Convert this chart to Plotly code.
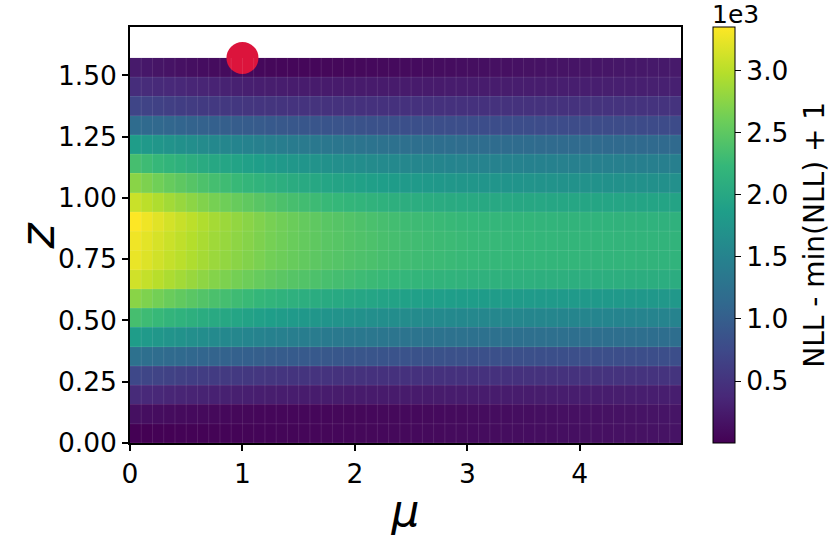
import plotly.graph_objects as go

# cell edges (mu: 49 cells, z: 20 cells)
mu_edges = [0.0, 0.1, 0.2, 0.3, 0.4, 0.5, 0.6, 0.7, 0.8, 0.9,
            1.0, 1.1, 1.2, 1.3, 1.4, 1.5, 1.6, 1.7, 1.8, 1.9,
            2.0, 2.1, 2.2, 2.3, 2.4, 2.5, 2.6, 2.7, 2.8, 2.9,
            3.0, 3.1, 3.2, 3.3, 3.4, 3.5, 3.6, 3.7, 3.8, 3.9,
            4.0, 4.1, 4.2, 4.3, 4.4, 4.5, 4.6, 4.7, 4.8, 4.9]
z_edges = [0.0, 0.0785, 0.1571, 0.2356, 0.3142, 0.3927, 0.4712, 0.5498, 0.6283, 0.7069,
           0.7854, 0.8639, 0.9425, 1.0210, 1.0996, 1.1781, 1.2566, 1.3352, 1.4137, 1.4923, 1.5708]

# NLL - min(NLL) + 1, rows from z=0 (bottom) to z=pi/2 (top)
row00 = [1, 5, 9, 13, 17, 20, 23, 26, 29, 32, 35, 38, 41, 44, 47, 50, 53, 56, 59, 62, 65, 68, 71, 74, 77, 80, 84, 88, 92, 96, 100, 104, 108, 112, 116, 120, 124, 128, 132, 136, 140, 144, 148, 152, 156, 160, 164, 168, 172]
row01 = [140, 128, 117, 107, 98, 90, 83, 77, 72, 68, 65, 63, 62, 61, 61, 61, 62, 63, 64, 66, 68, 70, 73, 76, 79, 82, 86, 90, 94, 98, 102, 106, 111, 116, 121, 126, 131, 136, 141, 146, 151, 156, 161, 166, 171, 176, 181, 186, 191]
row02 = [402, 386, 371, 357, 344, 332, 321, 311, 302, 294, 287, 280, 274, 269, 265, 261, 258, 256, 254, 253, 252, 252, 252, 252, 252, 253, 253, 254, 255, 256, 257, 258, 259, 260, 261, 262, 264, 265, 266, 268, 269, 270, 272, 273, 275, 276, 278, 279, 281]
row03 = [737, 712, 688, 665, 644, 625, 607, 591, 576, 563, 551, 540, 530, 521, 513, 506, 500, 494, 489, 485, 481, 478, 476, 474, 473, 472, 472, 472, 473, 474, 475, 476, 477, 479, 480, 482, 483, 485, 487, 488, 490, 492, 494, 495, 497, 499, 500, 502, 504]
row04 = [1240, 1214, 1188, 1162, 1140, 1118, 1096, 1074, 1057, 1039, 1022, 1005, 987, 974, 961, 948, 935, 922, 913, 904, 896, 887, 878, 869, 861, 856, 852, 848, 843, 839, 835, 832, 830, 828, 826, 824, 821, 819, 817, 816, 814, 813, 812, 811, 809, 808, 807, 805, 804]
row05 = [1843, 1805, 1767, 1728, 1696, 1665, 1633, 1601, 1575, 1550, 1525, 1499, 1474, 1454, 1435, 1416, 1397, 1378, 1365, 1353, 1340, 1327, 1314, 1302, 1289, 1282, 1276, 1270, 1263, 1257, 1251, 1247, 1244, 1241, 1238, 1235, 1231, 1228, 1225, 1223, 1221, 1219, 1217, 1216, 1214, 1212, 1210, 1208, 1206]
row06 = [2345, 2295, 2245, 2194, 2152, 2111, 2069, 2027, 1993, 1960, 1927, 1893, 1860, 1834, 1809, 1784, 1759, 1734, 1717, 1701, 1684, 1667, 1650, 1634, 1617, 1608, 1600, 1592, 1583, 1575, 1567, 1562, 1558, 1554, 1550, 1546, 1541, 1537, 1533, 1531, 1528, 1526, 1523, 1521, 1518, 1516, 1513, 1511, 1508]
row07 = [2747, 2689, 2630, 2572, 2524, 2475, 2427, 2378, 2339, 2300, 2262, 2223, 2184, 2155, 2126, 2096, 2067, 2038, 2019, 1999, 1980, 1960, 1941, 1922, 1902, 1893, 1883, 1873, 1863, 1854, 1844, 1839, 1834, 1829, 1825, 1820, 1815, 1810, 1805, 1802, 1799, 1796, 1793, 1791, 1788, 1785, 1782, 1779, 1776]
row08 = [3116, 3054, 2991, 2929, 2877, 2825, 2773, 2721, 2680, 2638, 2597, 2555, 2513, 2482, 2451, 2420, 2389, 2358, 2337, 2316, 2295, 2274, 2254, 2233, 2212, 2202, 2191, 2181, 2171, 2160, 2150, 2145, 2139, 2134, 2129, 2124, 2119, 2113, 2108, 2105, 2102, 2099, 2096, 2093, 2089, 2086, 2083, 2080, 2077]
row09 = [3250, 3185, 3120, 3056, 3002, 2948, 2894, 2840, 2796, 2753, 2710, 2667, 2624, 2591, 2559, 2526, 2494, 2462, 2440, 2418, 2397, 2375, 2354, 2332, 2310, 2300, 2289, 2278, 2267, 2256, 2246, 2240, 2235, 2229, 2224, 2219, 2213, 2208, 2202, 2199, 2196, 2193, 2189, 2186, 2183, 2180, 2176, 2173, 2170]
row10 = [3283, 3217, 3150, 3084, 3029, 2974, 2918, 2863, 2819, 2775, 2731, 2686, 2642, 2609, 2576, 2543, 2510, 2476, 2454, 2432, 2410, 2388, 2366, 2344, 2322, 2311, 2300, 2289, 2277, 2266, 2255, 2250, 2244, 2239, 2233, 2228, 2222, 2217, 2211, 2208, 2205, 2201, 2198, 2195, 2191, 2188, 2185, 2181, 2178]
row11 = [3350, 3278, 3205, 3133, 3073, 3013, 2952, 2892, 2844, 2796, 2748, 2699, 2651, 2615, 2579, 2543, 2507, 2470, 2446, 2422, 2398, 2374, 2350, 2326, 2302, 2290, 2278, 2266, 2253, 2241, 2229, 2223, 2217, 2211, 2205, 2199, 2193, 2187, 2181, 2178, 2174, 2170, 2167, 2163, 2159, 2156, 2152, 2149, 2145]
row12 = [3082, 3014, 2945, 2877, 2820, 2763, 2706, 2649, 2604, 2558, 2513, 2467, 2421, 2387, 2353, 2319, 2285, 2251, 2228, 2205, 2182, 2159, 2137, 2114, 2091, 2080, 2068, 2057, 2046, 2034, 2023, 2017, 2011, 2006, 2000, 1994, 1989, 1983, 1977, 1974, 1970, 1967, 1964, 1960, 1957, 1953, 1950, 1946, 1943]
row13 = [2747, 2683, 2618, 2554, 2500, 2447, 2393, 2340, 2297, 2254, 2211, 2168, 2125, 2093, 2061, 2029, 1997, 1964, 1943, 1922, 1900, 1879, 1857, 1836, 1814, 1804, 1793, 1782, 1771, 1761, 1750, 1745, 1739, 1734, 1729, 1723, 1718, 1713, 1707, 1704, 1701, 1698, 1694, 1691, 1688, 1685, 1681, 1678, 1675]
row14 = [2345, 2291, 2237, 2182, 2137, 2092, 2047, 2001, 1965, 1929, 1893, 1857, 1821, 1794, 1766, 1739, 1712, 1685, 1667, 1649, 1631, 1613, 1595, 1577, 1559, 1549, 1540, 1531, 1522, 1513, 1504, 1500, 1495, 1491, 1486, 1482, 1477, 1473, 1468, 1465, 1463, 1460, 1457, 1455, 1452, 1449, 1446, 1444, 1441]
row15 = [1843, 1801, 1759, 1716, 1681, 1646, 1611, 1575, 1547, 1519, 1491, 1463, 1435, 1414, 1392, 1371, 1350, 1329, 1315, 1301, 1287, 1273, 1259, 1245, 1231, 1223, 1216, 1209, 1202, 1195, 1188, 1185, 1181, 1178, 1174, 1171, 1167, 1164, 1160, 1158, 1156, 1154, 1152, 1150, 1147, 1145, 1143, 1141, 1139]
row16 = [1173, 1149, 1125, 1101, 1081, 1060, 1040, 1020, 1004, 988, 972, 956, 940, 928, 916, 904, 892, 880, 872, 863, 855, 847, 839, 831, 823, 819, 815, 811, 807, 803, 799, 797, 795, 793, 791, 789, 787, 785, 783, 782, 781, 779, 778, 777, 776, 775, 773, 772, 771]
row17 = [704, 680, 657, 635, 615, 597, 580, 566, 553, 542, 532, 523, 515, 508, 502, 497, 492, 488, 485, 482, 480, 478, 477, 476, 475, 475, 475, 476, 477, 478, 479, 480, 481, 482, 484, 485, 486, 488, 489, 490, 492, 493, 494, 496, 497, 498, 500, 501, 502]
row18 = [435, 418, 401, 385, 370, 355, 341, 328, 315, 303, 292, 282, 273, 266, 260, 256, 253, 251, 250, 249, 249, 249, 249, 250, 250, 251, 252, 253, 255, 256, 258, 260, 262, 264, 266, 268, 270, 272, 275, 277, 280, 282, 285, 287, 290, 292, 295, 297, 300]
row19 = [235, 213, 192, 172, 153, 136, 120, 106, 94, 84, 76, 70, 66, 63, 62, 62, 63, 65, 68, 71, 75, 79, 84, 89, 94, 100, 106, 112, 118, 124, 130, 136, 142, 148, 154, 160, 166, 172, 178, 184, 190, 196, 202, 208, 214, 220, 226, 232, 238]

nll = [row00, row01, row02, row03, row04, row05, row06, row07, row08, row09,
       row10, row11, row12, row13, row14, row15, row16, row17, row18, row19]
for r in nll:
    assert len(r) == len(mu_edges) - 1, len(r)
assert len(nll) == len(z_edges) - 1

# true parameter point
mu_true = [1.0]
z_true = [1.5708]

cbar_ticks = [500, 1000, 1500, 2000, 2500, 3000]
cbar_ticktext = ["0.5", "1.0", "1.5", "2.0", "2.5", "3.0"]
x_ticks = [0, 1, 2, 3, 4]
y_ticks = [0.0, 0.25, 0.5, 0.75, 1.0, 1.25, 1.5]

FONT = "DejaVu Sans"
TICK_SIZE = 26.5

fig = go.Figure()
fig.add_trace(go.Heatmap(
    x=mu_edges, y=z_edges, z=nll,
    colorscale="Viridis",
    colorbar=dict(
        x=1.058, xanchor="left", xpad=0,
        y=0, yanchor="bottom", len=1.0, lenmode="fraction", ypad=0,
        thickness=22, outlinecolor="black", outlinewidth=1,
        tickvals=cbar_ticks, ticktext=cbar_ticktext,
        ticks="outside", ticklen=6, tickwidth=1.2, tickcolor="black",
        tickfont=dict(family=FONT, size=TICK_SIZE, color="black"),
    ),
    hoverinfo="skip",
))

# faint cell edge lines (antialiasing seams)
for xe in mu_edges[1:-1]:
    fig.add_shape(type="line", x0=xe, x1=xe, y0=z_edges[0], y1=z_edges[-1],
                  line=dict(color="rgba(255,255,255,0.10)", width=1), layer="above")
for ye in z_edges[1:-1]:
    fig.add_shape(type="line", x0=mu_edges[0], x1=mu_edges[-1], y0=ye, y1=ye,
                  line=dict(color="rgba(255,255,255,0.10)", width=1), layer="above")

fig.add_trace(go.Scatter(
    x=mu_true, y=z_true, mode="markers",
    marker=dict(size=32, color="#dc143c", line=dict(width=0)),
    cliponaxis=False, showlegend=False, hoverinfo="skip",
))

# colorbar offset text and label
fig.add_annotation(text="1e3", xref="paper", yref="paper", x=1.054, y=1.068,
                   xanchor="left", yanchor="top", showarrow=False, borderpad=0,
                   font=dict(family=FONT, size=25, color="black"))
fig.add_annotation(text="NLL - min(NLL) + 1", xref="paper", yref="paper",
                   x=1.241, y=0.5, xanchor="center", yanchor="middle",
                   textangle=-90, showarrow=False,
                   font=dict(family=FONT, size=28, color="black"))
# y axis label
fig.add_annotation(text="<i>z</i>", xref="paper", yref="paper",
                   x=-0.168, y=0.5, xanchor="center", yanchor="middle",
                   textangle=-90, showarrow=False,
                   font=dict(family=FONT, size=48, color="black"))

fig.update_layout(
    width=831, height=541,
    margin=dict(l=130, r=150, t=27, b=98, autoexpand=False),
    paper_bgcolor="white", plot_bgcolor="white",
    font=dict(family=FONT, color="black"),
    showlegend=False,
    xaxis=dict(
        range=[0, 4.9], tickvals=x_ticks, ticks="outside", ticklen=6, tickwidth=1.5,
        tickcolor="black", showgrid=False, zeroline=False, automargin=False,
        showline=True, mirror=True, linecolor="black", linewidth=1.5,
        tickfont=dict(family=FONT, size=TICK_SIZE),
        title=dict(text="<i>μ</i>", font=dict(family=FONT, size=44), standoff=8),
    ),
    yaxis=dict(
        range=[0, 1.697], tickvals=y_ticks, tickformat=".2f", ticks="outside", ticklen=6,
        tickwidth=1.5, tickcolor="black", showgrid=False, zeroline=False, automargin=False,
        showline=True, mirror=True, linecolor="black", linewidth=1.5,
        tickfont=dict(family=FONT, size=TICK_SIZE),
    ),
)

fig.write_html("out.html", config={"displayModeBar": False},
               post_script="document.body.style.margin='0px';")
